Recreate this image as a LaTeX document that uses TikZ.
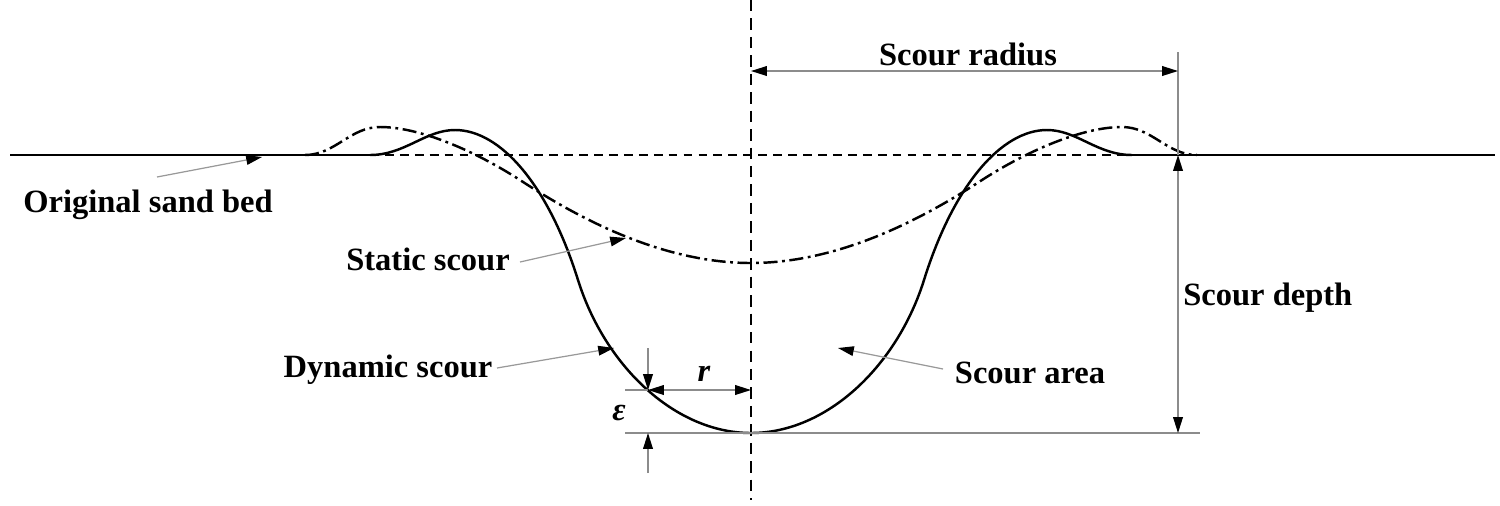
\documentclass[tikz,border=0pt]{standalone}
\usepackage{fontspec}
\setmainfont{Liberation Serif}
\usetikzlibrary{arrows.meta}
\begin{document}
\begin{tikzpicture}[x=0.02cm,y=-0.02cm,
  curve/.style={line width=1.4pt, draw=black, line join=round},
  dashdot/.style={curve, dash pattern=on 8pt off 2.6pt on 1.6pt off 2.6pt},
  bedline/.style={line width=1.4pt, draw=black},
  dashbed/.style={line width=1.2pt, draw=black, dash pattern=on 5pt off 3.5pt},
  centreline/.style={line width=1.1pt, draw=black, dash pattern=on 6.5pt off 4pt},
  dimline/.style={line width=0.8pt, draw=black!45},
  leader/.style={line width=0.7pt, draw=black!40},
  tipend/.style={-{Triangle[length=9pt,width=5.5pt,color=black]}},
  tipboth/.style={{Triangle[length=9pt,width=5.5pt,color=black]}-{Triangle[length=9pt,width=5.5pt,color=black]}},
  lbl/.style={font=\fontsize{18.5}{22}\selectfont\bfseries, inner sep=0pt, anchor=base}]
\useasboundingbox (0,0) rectangle (1500,505);

% coordinates
\coordinate (bedL) at (10,155);
\coordinate (dynL) at (370,155);
\coordinate (dynR) at (1132,155);
\coordinate (bedR) at (1495,155);
\coordinate (ctop) at (751,0);
\coordinate (cbot) at (751,500);

% bed line
\draw[bedline] (bedL) -- (dynL);
\draw[dashbed] (dynL) -- (dynR);
\draw[bedline] (dynR) -- (bedR);

% centre line
\draw[centreline] (ctop) -- (cbot);

% dynamic scour profile
\draw[curve] (dynL) .. controls (405,155) and (425,130) .. (455,130)
  .. controls (500,130) and (548,184) .. (578,280)
  .. controls (605,366) and (675,433) .. (751,433)
  .. controls (827,433) and (897,366) .. (924,280)
  .. controls (954,184) and (1002,130) .. (1047,130)
  .. controls (1077,130) and (1097,155) .. (dynR);

% static scour profile
\draw[dashdot] (305,155) .. controls (335,155) and (350,127) .. (380,127)
  .. controls (420,127) and (475,151) .. (520,180)
  .. controls (575,216) and (660,263) .. (751,263)
  .. controls (842,263) and (927,216) .. (982,180)
  .. controls (1027,151) and (1082,127) .. (1122,127)
  .. controls (1152,127) and (1167,155) .. (1197,155);

% scour radius dimension
\coordinate (radL) at (751,71);
\coordinate (radR) at (1178,71);
\coordinate (extTop) at (1178,52);
\coordinate (depTop) at (1178,155);
\coordinate (depBot) at (1178,433);
\draw[dimline] (extTop) -- (depTop);
\draw[dimline, tipboth] (radL) -- (radR);
\node[lbl] (radius) at (968,65) {Scour radius};

% scour depth dimension
\coordinate (botL) at (625,433);
\coordinate (botR) at (1200,433);
\draw[dimline] (botL) -- (botR);
\draw[dimline, tipboth] (depTop) -- (depBot);
\node[lbl, anchor=base west] (depth) at (1183,305) {Scour depth};

% r dimension
\coordinate (rL) at (625,390);
\coordinate (rA) at (648,390);
\coordinate (rB) at (751,390);
\draw[dimline] (rL) -- (rA);
\draw[dimline, tipboth] (rA) -- (rB);
\node[lbl] (rlab) at (704,381) {\itshape r};

% epsilon dimension
\coordinate (eTop) at (648,348);
\coordinate (eBot) at (648,473);
\coordinate (eA) at (648,390);
\coordinate (eB) at (648,433);
\draw[dimline, tipend] (eTop) -- (eA);
\draw[dimline, tipend] (eBot) -- (eB);
\node[lbl] (eps) at (619,420) {\itshape ε};

% labels with leaders
\node[lbl] (osb) at (148,212) {Original sand bed};
\coordinate (osbStart) at (157,177);
\coordinate (osbTip) at (262,157);
\draw[leader, tipend] (osbStart) -- (osbTip);

\node[lbl] (ss) at (428,270) {Static scour};
\coordinate (ssStart) at (520,262);
\coordinate (ssTip) at (626,238);
\draw[leader, tipend] (ssStart) -- (ssTip);

\node[lbl] (ds) at (388,377) {Dynamic scour};
\coordinate (dsStart) at (497,368);
\coordinate (dsTip) at (614,348);
\draw[leader, tipend] (dsStart) -- (dsTip);

\node[lbl] (sa) at (1030,383) {Scour area};
\coordinate (saStart) at (943,369);
\coordinate (saTip) at (838,348);
\draw[leader, tipend] (saStart) -- (saTip);
\end{tikzpicture}
\end{document}
